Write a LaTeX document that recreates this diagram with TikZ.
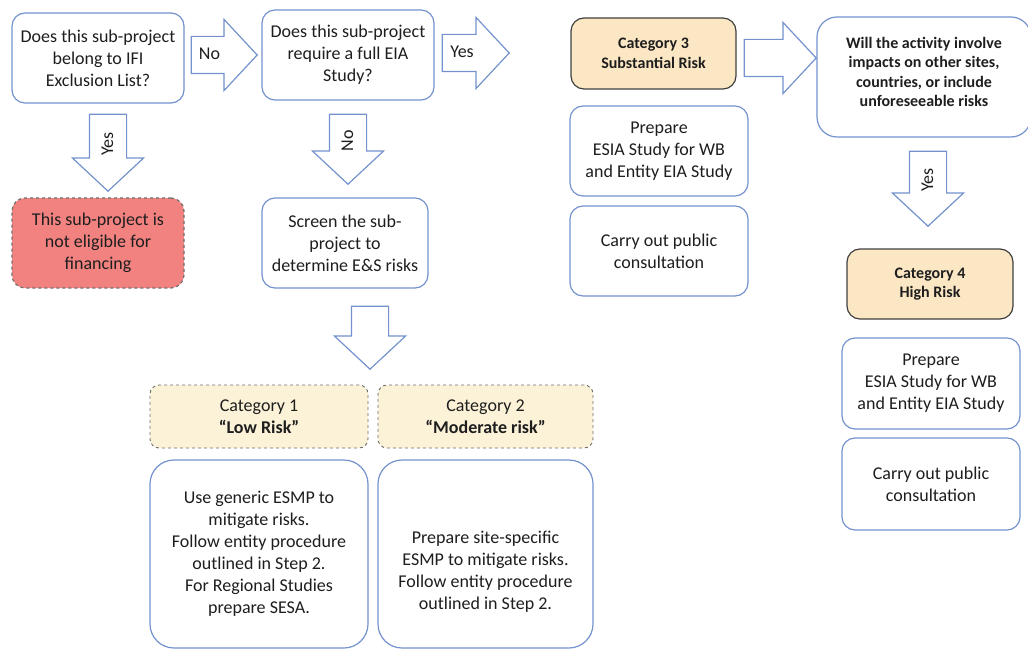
\documentclass[tikz,border=0pt]{standalone}
\usepackage{fontspec}
\setmainfont{Carlito}
\usetikzlibrary{shapes.arrows}

\definecolor{lineblue}{RGB}{116,146,206}
\definecolor{textgray}{RGB}{30,30,30}
\definecolor{redfill}{RGB}{242,130,128}
\definecolor{beige}{RGB}{251,231,196}
\definecolor{paleyellow}{RGB}{252,242,216}
\definecolor{dashgray}{RGB}{110,110,110}

\tikzset{
	box/.style={draw=lineblue, line width=1.2pt, rounded corners=13pt, fill=white, align=center, text=textgray, inner sep=2pt, font=\fontsize{18}{22}\selectfont},
	stopbox/.style={box, draw=dashgray, dashed, fill=redfill},
	catbox/.style={box, draw=black!75, fill=beige, font=\bfseries\fontsize{16}{19.5}\selectfont},
	lowcat/.style={box, draw=dashgray, dashed, line width=0.9pt, rounded corners=9pt, fill=paleyellow},
	barrow/.style={single arrow, draw=lineblue, line width=1.2pt, fill=white, single arrow head extend=17pt, single arrow tip angle=94, text height=11pt, text depth=1pt, inner ysep=12pt, inner xsep=3pt, text=textgray, font=\fontsize{18}{18}\selectfont},
	downarrow/.style={barrow, rotate=90, shape border rotate=180, anchor=tip},
}

\begin{document}
\begin{tikzpicture}[x=1pt,y=-1pt]
			%%%%% START %%%%%
			\useasboundingbox (0,0) rectangle (1028,650);
			
			\node[box, minimum width=172pt, minimum height=90pt] (qExcl) at (98,58) {Does this sub-project\\belong to IFI\\Exclusion List?};
			\node[box, minimum width=172pt, minimum height=90pt] (qEIA) at (348,55) {Does this sub-project\\require a full EIA\\Study?};
			\node[stopbox, minimum width=172pt, minimum height=90pt] (notElig) at (98,243) {This sub-project is\\not eligible for\\financing};
			\node[box, minimum width=166pt, minimum height=90pt] (screen) at (345,243) {Screen the sub-\\project to\\determine E\&S risks};
			
			\node[barrow, minimum height=66pt, anchor=tip] (arNo) at (258,55) {No\hspace*{12pt}};
			\node[barrow, minimum height=67pt, anchor=tip] (arYes) at (510,53) {Yes\hspace*{10pt}};
			\node[downarrow, minimum height=77pt] (arExcl) at (108,192) {Yes};
			\node[downarrow, minimum height=70pt] (arScreen) at (348,185) {No};
			\node[downarrow, minimum height=63pt] (arCat) at (370,370) {};
			
			\node[lowcat, minimum width=218pt, minimum height=63pt] (cat1) at (259,416.5) {Category 1\\\textbf{“Low Risk”}};
			\node[lowcat, minimum width=215pt, minimum height=63pt] (cat2) at (485.5,416.5) {Category 2\\\textbf{“Moderate risk”}};
			\node[box, minimum width=218pt, minimum height=188pt, rounded corners=24pt] (low) at (259,554) {Use generic ESMP to\\mitigate risks.\\Follow entity procedure\\outlined in Step 2.\\For Regional Studies\\prepare SESA.};
			\node[box, minimum width=215pt, minimum height=188pt, rounded corners=24pt] (moderate) at (485.5,554) {\rule{0pt}{47pt}Prepare site-specific\\ESMP to mitigate risks.\\Follow entity procedure\\outlined in Step 2.};
			
			\node[catbox, minimum width=165pt, minimum height=71pt] (cat3) at (653.5,53.5) {Category 3\\Substantial Risk};
			\node[box, minimum width=178pt, minimum height=90pt] (prep3) at (659,151) {Prepare\\ESIA Study for WB\\and Entity EIA Study};
			\node[box, minimum width=178pt, minimum height=90pt] (cons3) at (659,251) {Carry out public\\consultation};
			
			\node[barrow, minimum height=72pt, anchor=tip] (arImpact) at (817,58) {};
			\node[box, minimum width=214pt, minimum height=120pt, rounded corners=20pt, font=\bfseries\fontsize{16}{19.5}\selectfont] (qImpact) at (924,77) {Will the activity involve\\impacts on other sites,\\countries, or include\\unforeseeable risks\rule[-10pt]{0pt}{0pt}};
			\node[downarrow, minimum height=75pt] (arHigh) at (928,227) {Yes};
			
			\node[catbox, minimum width=166pt, minimum height=70pt] (cat4) at (930,284) {Category 4\\High Risk};
			\node[box, minimum width=178pt, minimum height=91pt] (prep4) at (931,383.5) {Prepare\\ESIA Study for WB\\and Entity EIA Study};
			\node[box, minimum width=178pt, minimum height=92pt] (cons4) at (931,484) {Carry out public\\consultation};
			
			%%%%% END %%%%%
		\end{tikzpicture}
\end{document}
